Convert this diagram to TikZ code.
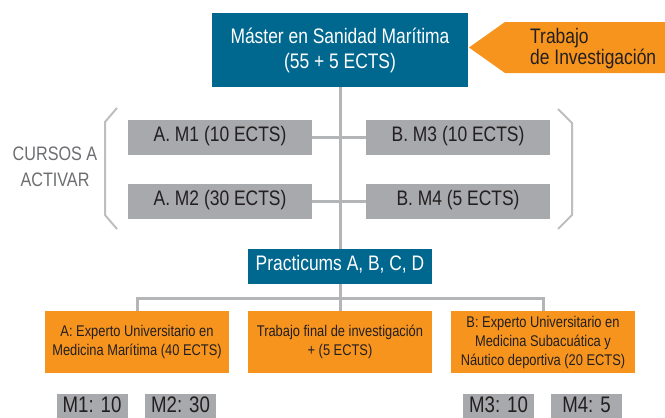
\documentclass[tikz,border=0pt]{standalone}
\usepackage{fontspec}
\setmainfont{Liberation Sans}[FakeStretch=0.83]
\definecolor{mblue}{HTML}{00678F}
\definecolor{morange}{HTML}{F7941E}
\definecolor{mgray}{HTML}{A7A9AC}
\definecolor{mline}{HTML}{B3B5B7}
\definecolor{mbrace}{HTML}{BCBEC0}
\definecolor{mtext}{HTML}{231F20}
\definecolor{mgtext}{HTML}{6D6E71}
\tikzset{
  onebox/.style={inner sep=0pt, text height=0.72em, text depth=0pt},
  bluebox/.style={onebox, fill=mblue, text=white, font=\fontsize{21}{25}\selectfont},
  mastbox/.style={inner sep=0pt, fill=mblue, text=white, align=center,
    minimum width=256pt, minimum height=74pt, font=\fontsize{21}{25}\selectfont},
  graybox/.style={onebox, fill=mgray, text=mtext, minimum width=184pt,
    minimum height=35pt, font=\fontsize{21}{24}\selectfont},
  orangebox/.style={inner sep=0pt, fill=morange, text=mtext, align=center,
    minimum width=184pt, minimum height=62pt, font=\fontsize{15.5}{19}\selectfont},
  smallbox/.style={onebox, fill=mgray, text=mtext, minimum width=71pt,
    minimum height=29pt, font=\fontsize{22.5}{26}\selectfont},
  conn/.style={draw=mline, line width=3pt},
  bracket/.style={draw=mbrace, line width=2pt},
}
\begin{document}
\begin{tikzpicture}[x=1pt, y=-1pt]
\clip (0,0) rectangle (665,418);
\fill[white] (0,0) rectangle (665,418);
% arrow
\fill[morange] (469,47.5) -- (505,22) -- (665,22) -- (665,73) -- (505,73) -- cycle;
\node[inner sep=0pt, anchor=west, align=left, text=mtext,
  font=\fontsize{21}{21}\selectfont] (trab) at (530,49) {Trabajo\\de Investigación};
% master
\node[mastbox] (master) at (340,50) {Máster en Sanidad Marítima\\(55 + 5 ECTS)};
% courses
\node[graybox] (m1) at (220,137.5) {A. M1 (10 ECTS)};
\node[graybox] (m2) at (220,201.5) {A. M2 (30 ECTS)};
\node[graybox] (m3) at (458,137.5) {B. M3 (10 ECTS)};
\node[graybox] (m4) at (458,201.5) {B. M4 (5 ECTS)};
\node[inner sep=0pt, align=center, text=mgtext, font=\fontsize{19.5}{26}\selectfont]
  (cursos) at (55,167) {CURSOS A\\ACTIVAR};
\node[bluebox, minimum width=184pt, minimum height=35pt] (prac) at (340,266.5) {Practicums A, B, C, D};
% orange boxes
\node[orangebox] (a) at (137,342) {A: Experto Universitario en\\Medicina Marítima (40 ECTS)};
\node[orangebox] (mid) at (340,342) {Trabajo final de investigación\\+ (5 ECTS)};
\node[orangebox] (b) at (543,342) {B: Experto Universitario en\\Medicina Subacuática y\\Náutico deportiva (20 ECTS)};
% bottom boxes
\node[smallbox] (s1) at (92,408.5) {M1: 10};
\node[smallbox] (s2) at (180.5,408.5) {M2: 30};
\node[smallbox] (s3) at (498.5,408.5) {M3: 10};
\node[smallbox] (s4) at (586.5,408.5) {M4: 5};
% connectors
\draw[conn] (master.south) -- (prac.north);
\draw[conn] (m1.east) -- (m3.west);
\draw[conn] (m2.east) -- (m4.west);
\draw[conn] (prac.south) -- (mid.north);
\draw[conn] (a.north) -- ++(0,-12) -| (b.north);
% brackets
\draw[bracket] (117,108) -- (105,122) -- (105,215) -- (117,229);
\draw[bracket] (558,109) -- (572,123) -- (572,215) -- (558,229);
\end{tikzpicture}
\end{document}
